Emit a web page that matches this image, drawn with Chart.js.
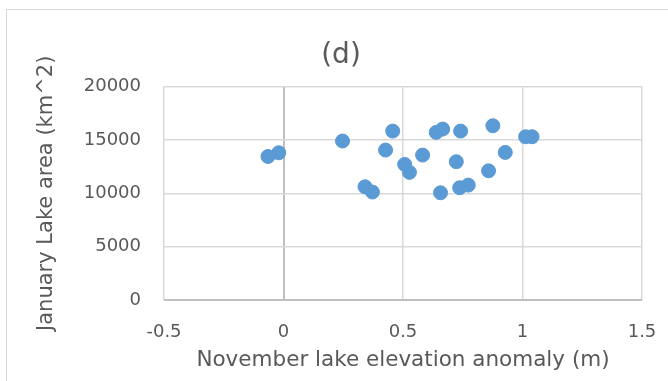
<!DOCTYPE html>
<html>
<head>
<meta charset="utf-8">
<script src="https://cdn.jsdelivr.net/npm/chart.js@4"></script>
<style>
  html, body { margin: 0; padding: 0; background: #fff; }
  #wrap { width: 668px; height: 381px; }
</style>
</head>
<body>
<div id="wrap"><canvas id="lakeChart" width="668" height="381"></canvas></div>
<script>
// November lake elevation anomaly (m)
var elevAnomaly = [-0.065, -0.02, 0.247, 0.457, 0.427, 0.341, 0.372, 0.507, 0.527, 0.582, 0.639,
                   0.666, 0.741, 0.657, 0.723, 0.737, 0.773, 0.858, 0.876, 0.928, 1.013, 1.040];
// January lake area (km^2)
var lakeArea = [13450, 13800, 14900, 15830, 14050, 10610, 10120, 12710, 11960, 13580, 15710,
                16020, 15830, 10050, 12960, 10520, 10770, 12110, 16330, 13830, 15300, 15300];

var chartTitle = "(d)";
var xTitle = "November lake elevation anomaly (m)";
var yTitle = "January Lake area (km^2)";

var points = [];
for (var i in elevAnomaly) {
    points.push({x: elevAnomaly[i], y: lakeArea[i]});
}

var fontName = "'DejaVu Sans', sans-serif";
var textGrey = '#595959';

// outer frame like the Excel chart area
var framePlugin = {
    id: 'frame',
    beforeDraw: function(chart) {
        var c = chart.ctx;
        c.save();
        c.fillStyle = '#fff';
        c.fillRect(0, 0, chart.width, chart.height);
        c.strokeStyle = '#d9d9d9';
        c.lineWidth = 1;
        c.strokeRect(6.5, 9.5, 700, 400);
        c.restore();
    }
};

// plain numbers, no thousands separator
var plainLabel = function(value) { return String(value); };

var gridColor = function(c) { return c.tick && c.tick.value === 0 ? '#bfbfbf' : '#d9d9d9'; };
var gridWidth = function(c) { return c.tick && c.tick.value === 0 ? 2 : 1.5; };

var ctx = document.getElementById('lakeChart').getContext('2d');
var chart = new Chart(ctx, {
    type: 'scatter',
    data: {
        datasets: [{
            data: points,
            backgroundColor: '#5b9bd5',
            borderColor: '#5b9bd5',
            pointRadius: 7,
            pointHoverRadius: 7
        }]
    },
    options: {
        responsive: false,
        animation: false,
        layout: { padding: { left: 20, right: 6, top: 0, bottom: 0 } },
        plugins: {
            legend: { display: false },
            tooltip: { enabled: false },
            title: {
                display: true,
                text: chartTitle,
                color: textGrey,
                font: { family: fontName, size: 28, weight: 'normal' },
                padding: { top: 39, bottom: 14 }
            }
        },
        scales: {
            x: {
                type: 'linear',
                min: -0.5,
                max: 1.5,
                afterFit: function(scale) {
                    scale.height = 81;
                    scale.paddingRight = 26;
                },
                ticks: {
                    stepSize: 0.5,
                    color: textGrey,
                    padding: 22,
                    font: { family: fontName, size: 18 },
                    callback: plainLabel
                },
                grid: { drawTicks: false, color: gridColor, lineWidth: gridWidth },
                border: { display: false },
                title: {
                    display: true,
                    text: xTitle,
                    color: textGrey,
                    font: { family: fontName, size: 21.5 },
                    padding: { top: 0, bottom: 8 }
                }
            },
            y: {
                min: 0,
                max: 20000,
                afterFit: function(scale) { scale.width = 144; },
                ticks: {
                    stepSize: 5000,
                    color: textGrey,
                    padding: 23,
                    font: { family: fontName, size: 18 },
                    callback: plainLabel
                },
                grid: { drawTicks: false, color: gridColor, lineWidth: gridWidth },
                border: { display: false },
                title: {
                    display: true,
                    text: yTitle,
                    color: textGrey,
                    font: { family: fontName, size: 21 },
                    padding: { top: 14, bottom: 0 }
                }
            }
        }
    },
    plugins: [framePlugin]
});
</script>
</body>
</html>
